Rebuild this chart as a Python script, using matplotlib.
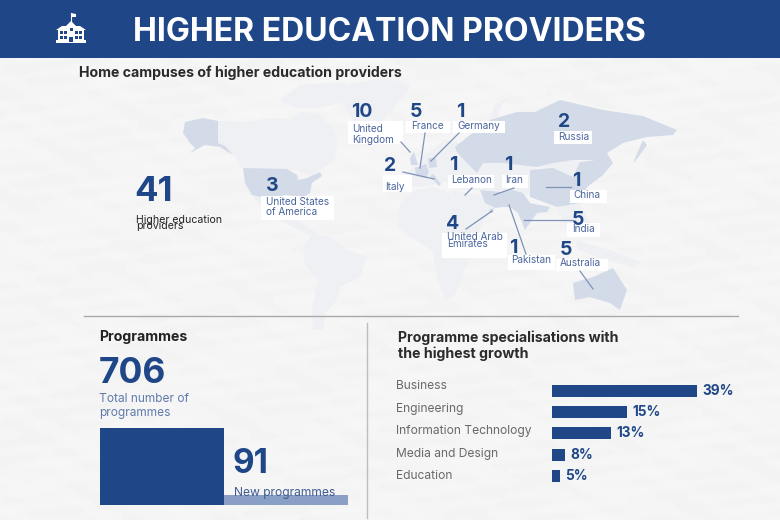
import numpy as np
import matplotlib
matplotlib.use("Agg")
import matplotlib.pyplot as plt
from matplotlib.patches import Polygon, Rectangle

FONT = ["Inter", "Open Sans", "DejaVu Sans"]
plt.rcParams["font.family"] = FONT

NAVY = "#1f4788"
MID = "#4a659c"
HI = "#d3dbe8"
LO = "#eef0f4"

# ---- data ----
campus_countries = ["United\nKingdom", "France", "Germany", "Russia", "Italy", "Lebanon", "Iran",
                    "China", "India", "United Arab\nEmirates", "Pakistan", "Australia", "United States\nof America"]
campus_counts = [10, 5, 1, 2, 2, 1, 1, 1, 5, 4, 1, 5, 3]
total_providers = 41
total_programmes = 706
new_programmes = 91
specialisations = ["Business", "Engineering", "Information Technology", "Media and Design", "Education"]
growth_labels = [39, 15, 13, 8, 5]
drawn_bar_lengths = [145, 75, 59, 13, 8]

fig = plt.figure(figsize=(7.8, 5.2), dpi=100)
ax = fig.add_axes([0, 0, 1, 1])
ax.set_xlim(0, 780)
ax.set_ylim(520, 0)
ax.axis("off")

# paper background
yy, xx = np.mgrid[0:520, 0:780]
paper = (244.5 + 0.5 * np.sin(yy / 3.1 + xx / 17) + 0.5 * np.sin(yy / 5.3 - xx / 13)
         + 0.4 * np.sin(yy / 2.3 + xx / 29) + 0.5 * np.sin(xx / 31 + yy / 19) + 0.4 * np.sin(xx / 7.1 - yy / 4.3))
ax.imshow(paper, cmap="gray", vmin=0, vmax=255, extent=(0, 780, 520, 0), aspect="auto", zorder=0)
ax.set_xlim(0, 780)
ax.set_ylim(520, 0)

# header
ax.add_patch(Rectangle((0, 0), 780, 58, fc=NAVY, ec="none", zorder=1))

def poly(pts, c, z=1.5):
    ax.add_patch(Polygon(pts, closed=True, fc=c, ec="none", zorder=z))

# faint land
faint = [
    [(218,121),(245,122),(270,118),(290,120),(300,112),(320,115),(330,125),(338,140),(334,160),(320,170),(312,176),(297,170),(287,169),(243,168),(233,155),(225,146),(218,143)],
    [(280,100),(300,85),(345,82),(350,100),(320,108),(295,108)],
    [(345,85),(385,78),(410,85),(400,100),(385,118),(370,135),(355,125),(345,105)],
    [(252,195),(267,200),(285,203),(290,215),(305,225),(315,232),(310,235),(295,228),(275,218),(260,205)],
    [(303,247),(313,233),(330,237),(347,250),(367,257),(360,277),(340,287),(337,300),(325,313),(323,330),(313,330),(312,310),(318,280),(305,265)],
    [(400,203),(413,192),(433,187),(450,193),(460,210),(477,217),(486,214),(478,235),(472,250),(465,268),(455,295),(445,300),(438,280),(432,250),(415,240),(398,228)],
    [(395,185),(410,170),(425,155),(445,140),(470,145),(477,170),(480,190),(465,190),(445,182),(420,187)],
    [(450,190),(480,195),(492,208),(487,217),(470,225),(460,210)],
    [(480,163),(530,160),(537,170),(525,180),(503,180),(480,172)],
    [(537,167),(553,163),(573,160),(590,165),(573,177),(553,170)],
    [(490,118),(495,104),(510,98),(502,104),(497,118)],
    [(478,170),(530,172),(530,195),(500,192),(482,190)],
    [(557,207),(580,203),(590,225),(585,240),(575,225),(565,225)],
    [(575,240),(610,250),(640,262),(635,268),(600,258),(578,250)],
]
for p in faint:
    poly(p, LO)

# highlighted countries
high = [
    [(185,122),(203,118),(218,121),(218,143),(225,146),(233,155),(220,147),(205,145),(190,153),(195,148),(190,143),(183,133)],
    [(243,168),(287,169),(297,175),(298,180),(307,178),(320,172),(322,176),(312,183),(310,193),(303,197),(285,195),(267,200),(260,197),(252,195),(245,183)],
    [(410,158),(414,152),(418,165),(411,165)],
    [(415,168),(426,164),(429,172),(426,178),(416,176)],
    [(428,158),(436,158),(437,167),(429,168)],
    [(430,176),(433,174),(441,184),(439,186)],
    [(455,147),(470,135),(490,120),(517,112),(535,112),(560,100),(603,110),(643,116),(677,130),(673,135),(647,137),(623,143),(607,153),(613,163),(603,175),(593,160),(573,160),(553,163),(537,167),(503,163),(483,163),(477,173),(462,158),(457,152)],
    [(633,163),(643,140),(647,145),(636,160)],
    [(480,190),(500,192),(503,207),(495,208),(485,203)],
    [(500,193),(512,190),(523,193),(510,207),(503,207)],
    [(523,193),(530,203),(550,207),(547,212),(537,213),(525,230),(518,213),(510,207)],
    [(530,170),(553,168),(573,177),(580,162),(597,160),(603,175),(587,187),(580,203),(557,207),(530,197)],
    [(573,283),(593,277),(613,268),(627,290),(620,310),(610,303),(590,297),(575,300)],
    [(490,209),(494,208),(493,213),(489,213)],
]
for p in high:
    poly(p, HI, 1.6)

# dividers
ax.plot([84, 738], [316, 316], color="#a9a9a9", lw=1, zorder=2)
ax.plot([366.5, 366.5], [323, 518], color="#bdbdbd", lw=1, zorder=2)

def t(x, y, s, size, color=NAVY, weight="normal", z=6):
    return ax.text(x, y, s, fontsize=size, color=color, fontweight=weight, ha="left", va="baseline", zorder=z)

# title and icon
t(133, 41, "HIGHER EDUCATION PROVIDERS", 23, "white", "bold")
W = "white"
poly([(56,43),(56,40),(58,40),(58,30),(56,30),(62,26),(66,26),(71,21),(76,26),(80,26),(86,30),(84,30),(84,40),(86,40),(86,43)], W, 3)
ax.plot([71, 71], [13, 22], color=W, lw=0.8, zorder=3)
poly([(71,13),(76,14),(76,17),(71,17)], W, 3)
for wx in [60, 64, 75, 79]:
    for wy in [31, 36]:
        ax.add_patch(Rectangle((wx, wy), 2.6, 3, fc=NAVY, ec="none", zorder=4))
ax.add_patch(Rectangle((69, 37), 4, 5, fc=NAVY, ec="none", zorder=4))
ax.add_patch(Rectangle((69.5, 28), 3, 3, fc=NAVY, ec="none", zorder=4))

t(79, 77, "Home campuses of higher education providers", 10.2, "#2b2b2b", "bold")

# total providers
t(134, 201, str(total_providers), 25, NAVY, "bold")
t(136, 223, "Higher education", 7.6, "#222222")
t(136, 229, "providers", 7.6, "#222222")

# label boxes
boxes = [(348,121,55,23),(406,121,44,12),(453,121,52,12),(554,131,38,13),(383,175,29,17),(448,175,46,13),(502,175,26,13),
         (570,190,37,13),(567,223,33,14),(442,233,65,25),(508,255,47,15),(556,259,52,12),(261,196,73,24)]
for b in boxes:
    ax.add_patch(Rectangle((b[0], b[1]), b[2], b[3], fc="white", ec="none", zorder=3))

leaders = [((401,142),(410,152)),((425,133),(420,168)),((459,133),(431,161)),None,((403,172),(434,179)),((472,188),(465,195)),
           ((514,188),(494,195)),((571,187),(546,187)),((573,220),(524,220)),((466,229),(492,211)),((526,254),(509,205)),((580,271),(593,289)),None]
for l in leaders:
    if l:
        ax.plot([l[0][0], l[1][0]], [l[0][1], l[1][1]], color="#7f93b8", lw=0.9, zorder=4)

count_pos = [(351,117),(410,117),(456,117),(558,127),(384,171),(449,170),(504,170),(572,186),(572,225),(446,229),(509,253),(560,255),(266,191)]
label_pos = [[(352,132),(352,143)],[(411,129)],[(457,129)],[(558,140)],[(385,190)],[(451,183)],[(505,183)],[(573,198)],[(572,232)],
             [(447,240),(447,247)],[(511,263)],[(560,266)],[(266,205),(266,215)]]
for name, n, cp, lp in zip(campus_countries, campus_counts, count_pos, label_pos):
    t(cp[0], cp[1], str(n), 14, NAVY, "bold")
    for line, p in zip(name.split("\n"), lp):
        t(p[0], p[1], line, 7.2, MID)

# Programmes panel
t(99, 341, "Programmes", 10.2, "#222222", "bold")
t(99, 383, str(total_programmes), 25.5, NAVY, "bold")
t(99, 402, "Total number of", 8.6, "#5f7aab")
t(99, 416, "programmes", 8.6, "#5f7aab")

ax_p = fig.add_axes([100 / 780, 1 - 505 / 520, 248 / 780, 77 / 520], zorder=1)
ax_p.bar([0, 1], [total_programmes, new_programmes], width=1, color=[NAVY, "#8a9fc4"])
ax_p.set_xlim(-0.5, 1.5)
ax_p.set_ylim(0, total_programmes)
ax_p.axis("off")
ax_p.patch.set_alpha(0)

ax_pt = fig.add_axes([0, 0, 1, 1], zorder=2)
ax_pt.set_xlim(0, 780)
ax_pt.set_ylim(520, 0)
ax_pt.axis("off")
ax_pt.patch.set_alpha(0)
ax_pt.text(234, 496, "New programmes", fontsize=8.7, color="#3f5c94", va="baseline")
ax_pt.text(233, 473, str(new_programmes), fontsize=24, color=NAVY, fontweight="bold", va="baseline")

# Growth panel
t(398, 342, "Programme specialisations with", 10.2, "#2b2b2b", "bold")
t(398, 358, "the highest growth", 10.2, "#2b2b2b", "bold")

ax_g = fig.add_axes([552 / 780, 1 - 490 / 520, 200 / 780, 113 / 520], zorder=1)
ypos = np.arange(len(specialisations))
ax_g.barh(ypos, drawn_bar_lengths, height=0.565, color=NAVY)
ax_g.set_xlim(0, 200)
ax_g.set_ylim(len(specialisations) - 0.33, -0.65)
ax_g.axis("off")
ax_g.patch.set_alpha(0)
for y, v, L in zip(ypos, growth_labels, drawn_bar_lengths):
    ax_g.text(L + 5, y, f"{v}%", fontsize=9.8, color=NAVY, fontweight="bold", va="center", ha="left")

cat_y = [389, 412, 434, 457, 479]
for name, y in zip(specialisations, cat_y):
    t(396, y, name, 8.7, "#6a6a6a")

fig.savefig("out.png", dpi=100)
